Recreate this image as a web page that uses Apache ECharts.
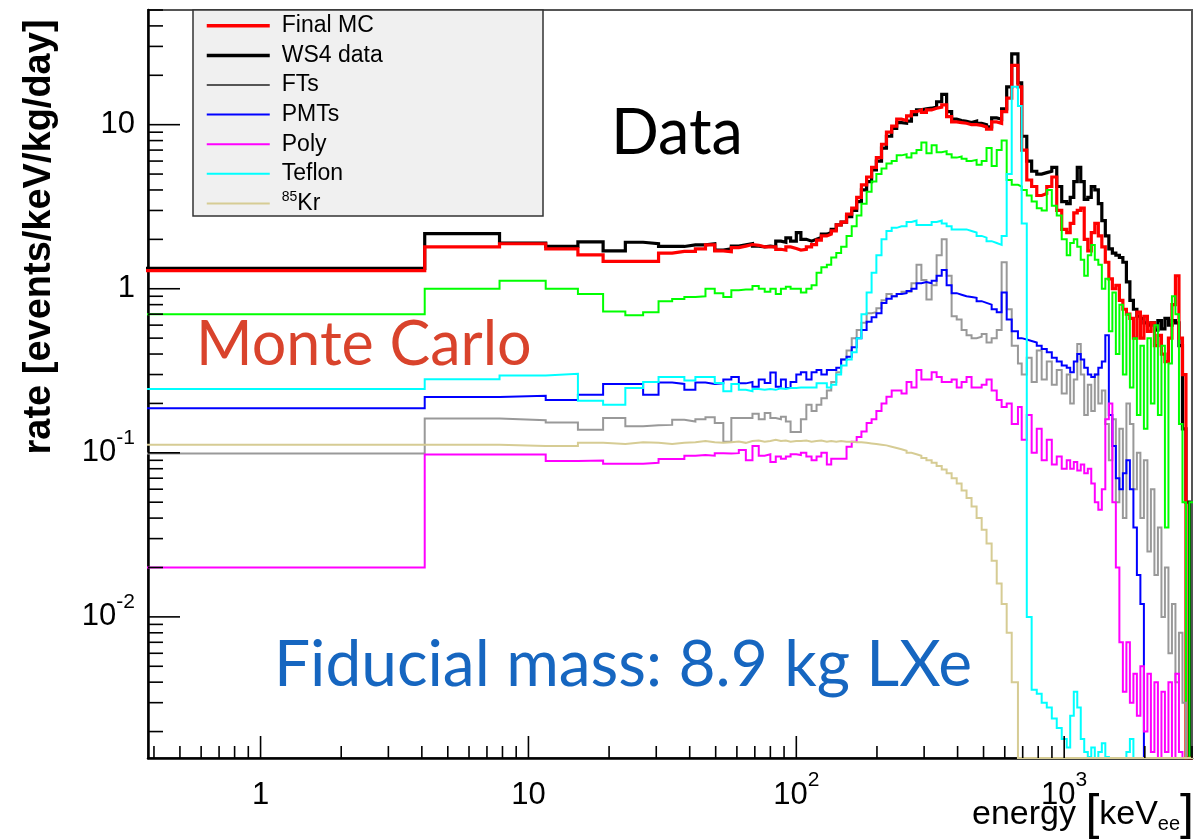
<!DOCTYPE html>
<html>
<head>
<meta charset="utf-8">
<script src="https://cdn.jsdelivr.net/npm/echarts@6/dist/echarts.min.js"></script>
<style>
html,body{margin:0;padding:0;background:#fff;}
#chart{width:1195px;height:839px;}
</style>
</head>
<body>
<div id="chart"></div>
<script>
// ---------------- axis ranges & ticks ----------------
const X_MIN = 0.38, X_MAX = 3000;
const Y_MIN = 0.00138, Y_MAX = 50;
const xMajorTicks = [1, 10, 100, 1000];
const xMinorTicks = [0.4,0.5,0.6,0.7,0.8,0.9, 2,3,4,5,6,7,8,9, 20,30,40,50,60,70,80,90, 200,300,400,500,600,700,800,900, 2000,3000];
const yMajorTicks = [0.01, 0.1, 1, 10];
const yMinorTicks = [0.002,0.003,0.004,0.005,0.006,0.007,0.008,0.009, 0.02,0.03,0.04,0.05,0.06,0.07,0.08,0.09,
                     0.2,0.3,0.4,0.5,0.6,0.7,0.8,0.9, 2,3,4,5,6,7,8,9, 20,30,40,50];
const xLabelValues = [1, 10, 100, 1000];
const xLabelTexts  = ['1', '10', '10{sup|2}', '10{sup|3}'];
const yLabelValues = [0.01, 0.1, 1, 10];
const yLabelTexts  = ['10{sup|-2}', '10{sup|-1}', '1', '10'];

// ---------------- histogram bin edges (keV) ----------------
const binEdges = [
  0.3, 4.1, 7.8, 11.6, 15.3, 19, 23, 26.8, 30.6, 34.4, 38.2, 42, 45.8, 49.6, 53.4, 57.2, 61, 64.8, 68.6, 72.4, 76.2, 80, 83.8, 87.6, 91.4, 95.2,
  100, 104, 109, 114, 119, 124, 130, 135, 141, 147, 154, 161, 168, 175, 183, 191, 199, 208, 217, 227, 237, 247, 258, 269, 281, 293, 306, 320, 334, 349,
  364, 380, 397, 414, 432, 451, 471, 492, 513, 536, 560, 584, 610, 637, 672, 694, 725, 756, 790, 824, 861, 899, 938, 979, 1022,
  1053, 1086, 1119, 1153, 1188, 1225, 1262, 1301, 1341, 1382, 1424, 1468, 1513, 1559, 1607, 1656, 1707, 1759, 1813, 1868,
  1925, 1984, 2045, 2107, 2172, 2238, 2307, 2377, 2450, 2525, 2602, 2682, 2764, 2848, 2935, 3025
];

// ---------------- series values (events/keV/kg/day), one per bin ----------------
const finalMC = [
  1.29, 1.80, 1.88, 1.75, 1.61, 1.47, 1.47, 1.47, 1.65, 1.69, 1.69, 1.75, 1.85, 1.70, 1.68, 1.78, 1.82, 1.86, 1.84, 1.80, 1.80, 1.80, 1.74, 1.72, 1.80, 1.76,
  1.72, 1.74, 1.80, 1.86, 1.98, 2.10, 2.15, 2.25, 2.45, 2.55, 2.85, 3.1, 3.6, 4.3, 4.8, 5.5, 6.3, 7.6, 9.0, 9.8,
  10.8, 10.6, 11.3, 12.0, 12.3, 11.9, 12.3, 12.6, 12.8, 13.2, 11.2, 10.4, 10.3, 10.2, 10.0, 10.0, 9.9, 9.7, 9.4, 10.4,
  10.2, 12.0, 14.5, 23.0, 17.0, 7.0, 4.6, 4.2, 3.7, 3.8, 4.2, 4.8, 3.0, 2.3,
  2.2, 2.5, 2.9, 3.0, 3.1, 2.0, 1.7, 2.2, 2.5, 2.1, 1.8, 1.45, 1.15, 1.0, 1.05, 0.85, 0.75, 0.7, 0.66, 0.5,
  0.72, 0.5, 0.68, 0.55, 0.62, 0.45, 0.52, 0.4, 0.36, 0.5, 0.8, 1.2, 0.5, 0.3, 0, 0
];
const ws4Data = [
  1.33, 2.17, 1.90, 1.81, 1.93, 1.70, 1.92, 1.88, 1.81, 1.81, 1.85, 1.85, 1.88, 1.72, 1.75, 1.82, 1.85, 1.88, 1.82, 1.80, 1.82, 1.80, 1.95, 1.92, 2.04, 1.95,
  2.2, 2.0, 1.95, 2.0, 2.05, 2.15, 2.2, 2.3, 2.45, 2.55, 2.75, 3.0, 3.4, 4.0, 4.5, 5.3, 6.0, 7.2, 8.5, 9.5,
  10.3, 10.2, 10.5, 11.5, 12.3, 12.5, 12.6, 12.8, 13.8, 15.3, 12.0, 10.8, 10.6, 10.5, 10.3, 10.5, 10.2, 10.0, 9.7, 11.0,
  10.8, 12.5, 17, 27, 18, 8.5, 6.0, 5.2, 5.0, 5.1, 5.2, 5.5, 4.2, 3.4,
  3.3, 3.6, 4.5, 5.5, 4.5, 3.5, 3.6, 4.2, 4.0, 3.3, 2.6, 2.1, 1.75, 1.65, 1.6, 1.55, 1.45, 1.1, 0.85, 0.75,
  0.68, 0.66, 0.62, 0.6, 0.62, 0.56, 0.64, 0.57, 0.66, 0.6, 0.64, 0.62, 0.45, 0.14, 0.05, 0
];
const cryostat = [
  0.70, 1.00, 1.12, 1.00, 0.93, 0.727, 0.69, 0.72, 0.84, 0.865, 0.89, 0.90, 1.0, 0.94, 0.89, 0.98, 0.99, 0.99, 1.04, 1.0, 0.96, 1.0, 0.93, 1.0, 1.03, 1.0,
  1.0, 0.95, 1.0, 1.05, 1.25, 1.35, 1.4, 1.55, 1.65, 1.8, 2.1, 2.4, 2.8, 3.3, 3.9, 4.5, 5.0, 5.4, 5.8, 6.0,
  6.5, 6.6, 6.3, 6.7, 7.0, 7.8, 6.7, 7.5, 6.8, 6.9, 6.6, 6.3, 6.4, 6.2, 6.0, 6.1, 5.7, 6.0, 7.2, 5.6,
  7.0, 8.0, 4.6, 4.3, 4.2, 4.0, 3.7, 3.4, 3.1, 3.0, 4.0, 3.2, 2.8, 2.0,
  1.6, 1.9, 2.0, 1.8, 1.5, 1.2, 1.6, 1.85, 1.5, 1.4, 1.0, 1.15, 0.55, 0.95, 0.4, 0.8, 0.3, 0.7, 0.25, 0.5,
  0.17, 0.45, 0.14, 0.5, 0.2, 0.6, 0.17, 0.45, 0.035, 0.35, 0.9, 0.7, 0.15, 0.05, 0, 0.05
];
const fts = [
  0.099, 0.162, 0.158, 0.153, 0.138, 0.163, 0.145, 0.147, 0.148, 0.159, 0.155, 0.16, 0.165, 0.152, 0.117, 0.163, 0.163, 0.163, 0.173, 0.16, 0.175, 0.163, 0.16, 0.166, 0.155, 0.134,
  0.134, 0.16, 0.196, 0.18, 0.196, 0.215, 0.24, 0.27, 0.31, 0.37, 0.42, 0.5, 0.56, 0.62, 0.71, 0.72, 0.76, 0.85, 0.93, 0.9,
  0.93, 0.96, 0.96, 1.08, 1.4, 1.13, 0.86, 1.05, 1.6, 2.0, 1.2, 0.68, 0.65, 0.56, 0.52, 0.5, 0.51, 0.53, 0.47, 0.5,
  0.56, 1.45, 0.75, 0.45, 0.35, 0.3, 0.38, 0.27, 0.42, 0.28, 0.36, 0.26, 0.32, 0.23,
  0.3, 0.2, 0.28, 0.46, 0.3, 0.17, 0.26, 0.18, 0.3, 0.2, 0.24, 0.15, 0.09, 0.16, 0.05, 0.14, 0.04, 0.2, 0.15, 0.06,
  0.1, 0.04, 0.09, 0.025, 0.06, 0.018, 0.035, 0.01, 0.02, 0.006, 0.012, 0.004, 0.008, 0.003, 0, 0
];
const pmts = [
  0.187, 0.219, 0.223, 0.21, 0.226, 0.263, 0.263, 0.226, 0.268, 0.263, 0.242, 0.268, 0.263, 0.265, 0.28, 0.29, 0.265, 0.27, 0.253, 0.28, 0.266, 0.309, 0.253, 0.28, 0.248, 0.27,
  0.30, 0.31, 0.28, 0.31, 0.32, 0.30, 0.32, 0.32, 0.33, 0.37, 0.385, 0.44, 0.5, 0.56, 0.63, 0.67, 0.71, 0.82, 0.87, 0.9,
  0.93, 0.94, 0.97, 1.0, 1.08, 1.1, 1.08, 1.12, 1.2, 1.3, 1.05, 0.94, 0.92, 0.9, 0.89, 0.88, 0.84, 0.82, 0.8, 0.75,
  0.72, 0.95, 0.65, 0.55, 0.5, 0.49, 0.48, 0.47, 0.45, 0.43, 0.41, 0.38, 0.36, 0.34,
  0.33, 0.31, 0.36, 0.4, 0.37, 0.33, 0.3, 0.29, 0.3, 0.33, 0.36, 0.52, 0.17, 0.11, 0.07, 0.06, 0.075, 0.09, 0.06, 0.035,
  0.018, 0.012, 0, 0, 0, 0, 0, 0, 0, 0, 0, 0, 0, 0, 0, 0
];
const poly = [
  0.02, 0.0978, 0.0978, 0.089, 0.0898, 0.0859, 0.0859, 0.087, 0.0917, 0.0917, 0.096, 0.097, 0.096, 0.0995, 0.099, 0.0995, 0.104, 0.09, 0.11, 0.096, 0.098, 0.088, 0.095, 0.092, 0.095, 0.098,
  0.097, 0.1, 0.095, 0.09, 0.095, 0.1, 0.085, 0.092, 0.092, 0.092, 0.109, 0.117, 0.125, 0.135, 0.152, 0.16, 0.18, 0.2, 0.22, 0.24,
  0.24, 0.23, 0.27, 0.25, 0.32, 0.28, 0.28, 0.31, 0.29, 0.27, 0.27, 0.28, 0.25, 0.27, 0.29, 0.25, 0.25, 0.26, 0.28, 0.24,
  0.21, 0.19, 0.2, 0.15, 0.19, 0.12, 0.17, 0.1, 0.14, 0.09, 0.12, 0.085, 0.095, 0.08,
  0.09, 0.08, 0.088, 0.078, 0.085, 0.075, 0.08, 0.065, 0.05, 0.045, 0.06, 0.16, 0.2, 0.05, 0.02, 0.007, 0.0035, 0.007, 0.003, 0.0045,
  0.0025, 0.005, 0.002, 0.0045, 0.0015, 0.004, 0.0012, 0.0035, 0.0015, 0.004, 0.0012, 0.0045, 0.0015, 0, 0, 0
];
const teflon = [
  0.245, 0.281, 0.296, 0.303, 0.208, 0.196, 0.248, 0.27, 0.29, 0.29, 0.276, 0.29, 0.29, 0.266, 0.237, 0.263, 0.242, 0.237, 0.245, 0.242, 0.245, 0.242, 0.247, 0.245, 0.248, 0.248,
  0.25, 0.25, 0.25, 0.25, 0.265, 0.265, 0.25, 0.26, 0.3, 0.34, 0.37, 0.41, 0.5, 0.7, 0.95, 1.25, 1.6, 2.0, 2.25, 2.35,
  2.4, 2.4, 2.55, 2.6, 2.45, 2.45, 2.45, 2.55, 2.6, 2.5, 2.4, 2.3, 2.3, 2.3, 2.25, 2.2, 2.1, 2.05, 1.95, 1.9,
  1.85, 2.1, 5.0, 17, 13, 2.5, 0.01, 0.0036, 0.0034, 0.003, 0.0028, 0.0024, 0.0021, 0.0018,
  0.0016, 0.0025, 0.0035, 0.0028, 0.0018, 0.0015, 0.0014, 0.0016, 0.0013, 0.0015, 0.0017, 0.0014, 0.0013, 0.0012, 0.0011, 0.001, 0.0011, 0.0015, 0.0018, 0.0012,
  0, 0, 0, 0, 0, 0, 0, 0, 0, 0, 0, 0, 0, 0, 0, 0
];
const kr85 = [
  0.112, 0.112, 0.110, 0.110, 0.115, 0.113, 0.116, 0.115, 0.113, 0.115, 0.116, 0.118, 0.116, 0.115, 0.116, 0.117, 0.115, 0.118, 0.119, 0.117, 0.118, 0.12, 0.118, 0.119, 0.117, 0.118,
  0.118, 0.119, 0.117, 0.118, 0.119, 0.117, 0.118, 0.117, 0.118, 0.117, 0.117, 0.116, 0.116, 0.115, 0.114, 0.113, 0.112, 0.111, 0.109, 0.107,
  0.105, 0.103, 0.1, 0.098, 0.096, 0.093, 0.09, 0.087, 0.083, 0.079, 0.075, 0.07, 0.065, 0.059, 0.053, 0.047, 0.04, 0.034, 0.028, 0.022,
  0.016, 0.012, 0.008, 0.004, 0, 0, 0, 0, 0, 0, 0, 0, 0, 0,
  0, 0, 0, 0, 0, 0, 0, 0, 0, 0, 0, 0, 0, 0, 0, 0, 0, 0, 0, 0,
  0, 0, 0, 0, 0, 0, 0, 0, 0, 0, 0, 0, 0, 0, 0, 0
];

// ---------------- build step-histogram series ----------------
// empty bins are drawn on the bottom frame, as the original log plot does
function histData(values) {
  const pts = values.map((v, i) => [binEdges[i], v > 0 ? v : Y_MIN]);
  const last = values[values.length - 1];
  pts.push([binEdges[values.length], last > 0 ? last : Y_MIN]);
  return pts;
}
function histSeries(name, values, color, width) {
  return {
    name, type: 'line', step: 'end', symbol: 'none', showSymbol: false,
    data: histData(values), clip: true, animation: false,
    lineStyle: { color, width, join: 'miter', cap: 'butt' },
    itemStyle: { color },
    emphasis: { disabled: true }
  };
}
function tickSeries(values, axis, len) {
  return {
    type: 'custom', silent: true, z: 6, animation: false,
    data: values.map(v => axis === 'x' ? [v, Y_MIN] : [X_MIN, v]),
    encode: { x: 0, y: 1 },
    renderItem: (params, api) => {
      const p = api.coord([api.value(0), api.value(1)]);
      const shape = axis === 'x'
        ? { x1: p[0], y1: p[1], x2: p[0], y2: p[1] - len }
        : { x1: p[0], y1: p[1], x2: p[0] + len, y2: p[1] };
      return { type: 'line', shape, style: { stroke: '#000', lineWidth: 1.6 } };
    }
  };
}
function lookupLabel(vals, texts) {
  return v => {
    for (let i = 0; i < vals.length; i++) {
      if (Math.abs(Math.log10(v) - Math.log10(vals[i])) < 1e-6) return texts[i];
    }
    return '';
  };
}

const ROOT_FONT = '"Liberation Sans", Arial, Helvetica, sans-serif';
const labelRich = { sup: { fontSize: 21, lineHeight: 21, verticalAlign: 'top', fontFamily: ROOT_FONT, color: '#000' } };

const chart = echarts.init(document.getElementById('chart'), null, { renderer: 'canvas' });
chart.setOption({
  animation: false,
  backgroundColor: '#fff',
  grid: { left: 148, right: 3, top: 10, bottom: 81, show: true, borderColor: '#555', borderWidth: 2, backgroundColor: '#fff' },
  xAxis: {
    type: 'log', logBase: 10, min: X_MIN, max: X_MAX,
    axisLine: { show: true, onZero: false, lineStyle: { color: '#000', width: 2.5 } },
    axisTick: { show: false }, splitLine: { show: false }, minorTick: { show: false },
    axisLabel: {
      show: true, margin: 12, fontSize: 31, lineHeight: 50, color: '#000', fontFamily: ROOT_FONT,
      showMinLabel: false, showMaxLabel: false,
      formatter: lookupLabel(xLabelValues, xLabelTexts), rich: labelRich
    }
  },
  yAxis: {
    type: 'log', logBase: 10, min: Y_MIN, max: Y_MAX,
    axisLine: { show: true, onZero: false, lineStyle: { color: '#000', width: 2.5 } },
    axisTick: { show: false }, splitLine: { show: false }, minorTick: { show: false },
    axisLabel: {
      show: true, margin: 13, fontSize: 31, lineHeight: 50, color: '#000', fontFamily: ROOT_FONT,
      showMinLabel: false, showMaxLabel: false,
      formatter: lookupLabel(yLabelValues, yLabelTexts), rich: labelRich
    }
  },
  legend: {
    show: true, orient: 'vertical', left: 205, top: 11, padding: 0,
    itemWidth: 63, itemHeight: 14, itemGap: 0, selectedMode: false, z: 20,
    itemStyle: { opacity: 0 },
    data: [
      { name: 'Final MC', lineStyle: { color: '#ff0000', width: 3.5 } },
      { name: 'WS4 data', lineStyle: { color: '#000000', width: 3.5 } },
      { name: 'FTs', lineStyle: { color: '#222', width: 1.6 } },
      { name: 'PMTs', lineStyle: { color: '#0000ff', width: 2 } },
      { name: 'Poly', lineStyle: { color: '#ff00ff', width: 2 } },
      { name: 'Teflon', lineStyle: { color: '#00ffff', width: 2 } },
      { name: '85Kr', lineStyle: { color: '#d6cc94', width: 2 } }
    ],
    formatter: n => n === '85Kr' ? '{sup|85}Kr' : n,
    textStyle: {
      fontFamily: ROOT_FONT, fontSize: 23, color: '#000', lineHeight: 29.6, padding: [0, 0, 0, 7],
      rich: { sup: { fontSize: 14, lineHeight: 14, verticalAlign: 'top', padding: [2, 0, 0, 0], fontFamily: ROOT_FONT, color: '#000' } }
    }
  },
  graphic: [
    { type: 'rect', z: 15, shape: { x: 193, y: 10, width: 350, height: 206 },
      style: { fill: '#f0f0f0', stroke: '#333', lineWidth: 1.5 } },
    { type: 'text', z: 30, x: 611, y: 134,
      style: { text: 'Data', font: '63px Lato', fill: '#000', textAlign: 'left', textVerticalAlign: 'middle', align: 'left', verticalAlign: 'middle' } },
    { type: 'text', z: 30, x: 196, y: 345,
      style: { text: 'Monte Carlo', font: '61px Lato', fill: '#d9432c', textAlign: 'left', textVerticalAlign: 'middle', align: 'left', verticalAlign: 'middle' } },
    { type: 'text', z: 30, x: 274, y: 665,
      style: { text: 'Fiducial mass: 8.9 kg LXe', font: '64px Lato', fill: '#1666c0', textAlign: 'left', textVerticalAlign: 'middle', align: 'left', verticalAlign: 'middle' } },
    { type: 'text', z: 30, x: 40, y: 237, rotation: Math.PI / 2,
      style: { text: 'rate [events/keV/kg/day]', font: 'bold 38px ' + ROOT_FONT, fill: '#000', textAlign: 'center', textVerticalAlign: 'middle', align: 'center', verticalAlign: 'middle' } },
    { type: 'text', z: 30, x: 1194, y: 815,
      style: {
        text: '{a|energy }{b|[}{a|keV}{c|ee}{b|]}', fill: '#000',
        textAlign: 'right', textVerticalAlign: 'middle', align: 'right', verticalAlign: 'middle',
        rich: {
          a: { fontSize: 34, fontFamily: ROOT_FONT, color: '#000' },
          b: { fontSize: 50, lineHeight: 50, fontFamily: ROOT_FONT, color: '#000' },
          c: { fontSize: 20, lineHeight: 20, verticalAlign: 'bottom', padding: [0, 0, 6, 0], fontFamily: ROOT_FONT, color: '#000' }
        }
      } }
  ],
  series: [
    histSeries('WS4 data', ws4Data, '#000000', 3.2),
    histSeries('Final MC', finalMC, '#ff0000', 3.2),
    histSeries('Cryostat', cryostat, '#00ff00', 2),
    histSeries('FTs', fts, '#999999', 2),
    histSeries('PMTs', pmts, '#0000ff', 2),
    histSeries('Poly', poly, '#ff00ff', 2),
    histSeries('Teflon', teflon, '#00ffff', 2),
    histSeries('85Kr', kr85, '#d6cc94', 2),
    tickSeries(xMajorTicks, 'x', 22),
    tickSeries(xMinorTicks, 'x', 12),
    tickSeries(yMajorTicks, 'y', 32),
    tickSeries(yMinorTicks, 'y', 15)
  ]
});
</script>
</body>
</html>
